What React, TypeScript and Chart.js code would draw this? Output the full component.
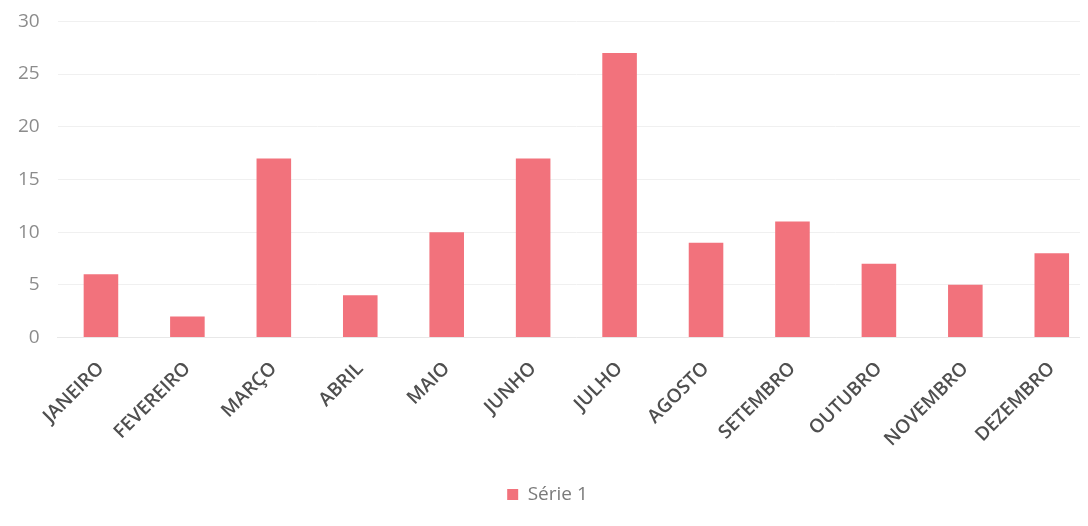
import React, { useEffect, useRef } from "react";
import { Chart, registerables } from "chart.js";

Chart.register(...registerables);

const categories = [
  "JANEIRO", "FEVEREIRO", "MARÇO", "ABRIL", "MAIO", "JUNHO",
  "JULHO", "AGOSTO", "SETEMBRO", "OUTUBRO", "NOVEMBRO", "DEZEMBRO",
];
const serie1 = [6, 2, 17, 4, 10, 17, 27, 9, 11, 7, 5, 8];
const seriesName = "Série 1";
const yMax = 30;
const yStep = 5;

export default function App() {
  const ref = useRef<HTMLCanvasElement | null>(null);
  useEffect(() => {
    if (!ref.current) return;
    const chart = new Chart(ref.current, {
      type: "bar",
      data: {
        labels: categories,
        datasets: [
          {
            label: seriesName,
            data: serie1,
            backgroundColor: "#f2727c",
            borderWidth: 0,
            barPercentage: 0.4,
            categoryPercentage: 1,
          },
        ],
      },
      options: {
        animation: false,
        responsive: true,
        maintainAspectRatio: false,
        layout: { padding: { top: 0, left: 0, right: 5, bottom: 12 } },
        plugins: {
          tooltip: { enabled: false },
          legend: {
            position: "bottom",
            labels: {
              boxWidth: 11,
              boxHeight: 11,
              color: "#7a7a7a",
              font: { family: "'Open Sans', sans-serif", size: 19 },
              padding: 22,
            },
          },
        },
        scales: {
          x: {
            grid: { display: false },
            border: { display: true, color: "#e8e8e8" },
            ticks: {
              minRotation: 45,
              maxRotation: 45,
              color: "#4f4f4f",
              padding: 12,
              font: { family: "'Open Sans', sans-serif", size: 19, weight: 600 },
            },
          },
          y: {
            min: 0,
            max: yMax,
            ticks: {
              stepSize: yStep,
              color: "#8c8c8c",
              padding: 18,
              font: { family: "'Open Sans', sans-serif", size: 19 },
            },
            grid: { color: "#f0f0f0", drawTicks: false },
            border: { display: false },
          },
        },
      },
    });
    return () => chart.destroy();
  }, []);
  return (
    <div style={{ width: 1088, height: 526, overflow: "hidden", margin: -8, background: "#fff" }}>
      <div style={{ width: 1100, height: 534, position: "relative", top: -8 }}>
        <canvas ref={ref} />
      </div>
    </div>
  );
}
